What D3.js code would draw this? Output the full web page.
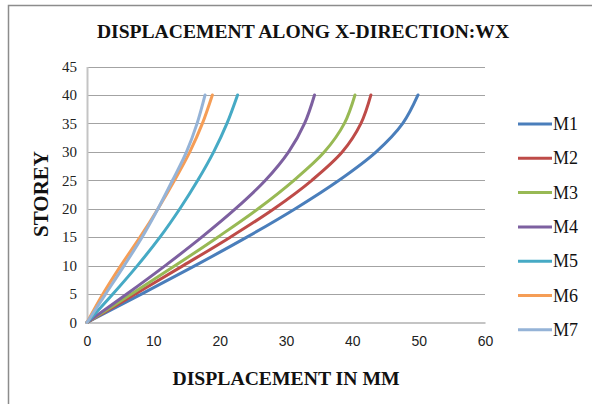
<!DOCTYPE html>
<html>
<head>
<meta charset="utf-8">
<script src="https://cdn.jsdelivr.net/npm/d3@7"></script>
<style>
  html, body { margin: 0; padding: 0; background: #fff; }
  svg { display: block; }
</style>
</head>
<body>
<svg id="chart" width="592" height="404"></svg>
<script>
// Storey levels and lateral displacement (mm) of each model
const storeys = [0, 5, 10, 15, 20, 25, 30, 35, 40];
const M1 = [0, 8.2, 16.3, 24.1, 31.4, 38.0, 43.6, 47.6, 49.9];
const M2 = [0, 7.3, 14.5, 21.6, 28.2, 33.9, 38.5, 41.3, 42.8];
const M3 = [0, 6.7, 13.3, 19.7, 25.8, 31.2, 35.8, 38.8, 40.4];
const M4 = [0, 6.0, 11.8, 17.3, 22.4, 26.9, 30.4, 32.8, 34.3];
const M5 = [0, 3.9, 7.6, 11.0, 14.0, 16.7, 19.1, 21.1, 22.7];
const M6 = [0, 2.4, 5.1, 8.0, 10.7, 13.2, 15.5, 17.4, 18.9];
const M7 = [0, 2.8, 5.6, 8.3, 10.7, 12.9, 15.0, 16.6, 17.8];

const seriesNames = ["M1", "M2", "M3", "M4", "M5", "M6", "M7"];
const seriesValues = [M1, M2, M3, M4, M5, M6, M7];
const seriesColors = ["#4a7ebb", "#be4b48", "#98b954", "#7d60a0", "#46aac5", "#f59d56", "#95b3d7"];

const xTicks = [0, 10, 20, 30, 40, 50, 60];
const yTicks = [0, 5, 10, 15, 20, 25, 30, 35, 40, 45];

const svg = d3.select("#chart");

// outer chart frame (left and top edges visible)
svg.append("path")
  .attr("d", "M8.5,404 L8.5,5.5 L592,5.5")
  .attr("fill", "none")
  .attr("stroke", "#8c8c8c")
  .attr("stroke-width", 1.5);

const plot = { left: 87, right: 485, top: 66.5, bottom: 322.5 };

const x = d3.scaleLinear().domain([0, 60]).range([plot.left, plot.right]);
const y = d3.scaleLinear().domain([0, 45]).range([plot.bottom, plot.top]);

// horizontal gridlines
svg.append("g")
  .selectAll("line")
  .data(yTicks.filter(v => v > 0))
  .join("line")
  .attr("x1", plot.left)
  .attr("x2", plot.right)
  .attr("y1", d => Math.round(y(d)) + 0.5)
  .attr("y2", d => Math.round(y(d)) + 0.5)
  .attr("stroke", "#a3a3a3")
  .attr("stroke-width", 1);

// axes
const yAxis = svg.append("g")
  .attr("transform", `translate(${plot.left},0)`)
  .call(d3.axisLeft(y).tickValues(yTicks).tickSize(0).tickPadding(10));
yAxis.select(".domain").attr("stroke", "#c4c4c4").attr("stroke-width", 2);
yAxis.selectAll("text")
  .style("font-family", "'Liberation Serif', 'Times New Roman', serif")
  .style("font-size", "15px")
  .attr("fill", "#222");

const xAxis = svg.append("g")
  .attr("transform", `translate(0,${plot.bottom})`)
  .call(d3.axisBottom(x).tickValues(xTicks).tickSize(0).tickPadding(14));
xAxis.select(".domain").attr("stroke", "#c4c4c4").attr("stroke-width", 2);
xAxis.selectAll("text")
  .style("font-family", "'Liberation Sans', Arial, sans-serif")
  .style("font-size", "14px")
  .attr("fill", "#222");

// displacement profiles
const line = d3.line()
  .x(d => x(d[0]))
  .y(d => y(d[1]))
  .curve(d3.curveCatmullRom.alpha(0.5));

svg.append("g")
  .selectAll("path")
  .data(seriesValues)
  .join("path")
  .attr("d", vals => line(vals.map((v, i) => [v, storeys[i]])))
  .attr("fill", "none")
  .attr("stroke", (d, i) => seriesColors[i])
  .attr("stroke-width", 3)
  .attr("stroke-linecap", "round");

// titles
const serifBold = "'Liberation Serif', 'Times New Roman', serif";
svg.append("text")
  .attr("x", 303).attr("y", 38)
  .attr("text-anchor", "middle")
  .attr("font-family", serifBold).attr("font-weight", "bold").attr("font-size", 19.6)
  .attr("fill", "#111")
  .text("DISPLACEMENT ALONG X-DIRECTION:WX");

svg.append("text")
  .attr("x", 286).attr("y", 385)
  .attr("text-anchor", "middle")
  .attr("font-family", serifBold).attr("font-weight", "bold").attr("font-size", 19.7)
  .attr("fill", "#111")
  .text("DISPLACEMENT IN MM");

svg.append("text")
  .attr("transform", "translate(48,194) rotate(-90)")
  .attr("text-anchor", "middle")
  .attr("font-family", serifBold).attr("font-weight", "bold").attr("font-size", 21)
  .attr("fill", "#111")
  .text("STOREY");

// legend
const legend = svg.append("g")
  .selectAll("g")
  .data(seriesNames)
  .join("g")
  .attr("transform", (d, i) => `translate(518,${124 + i * 34.3})`);
legend.append("line")
  .attr("x1", 0).attr("x2", 34)
  .attr("stroke", (d, i) => seriesColors[i])
  .attr("stroke-width", 3);
legend.append("text")
  .attr("x", 35).attr("y", 6)
  .attr("font-family", "'Liberation Serif', 'Times New Roman', serif")
  .attr("font-size", 18)
  .attr("fill", "#111")
  .text(d => d);
</script>
</body>
</html>
